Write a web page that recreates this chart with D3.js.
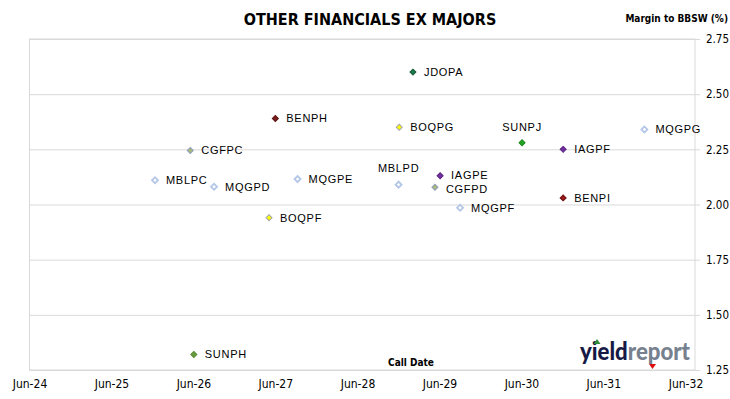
<!DOCTYPE html>
<html>
<head>
<meta charset="utf-8">
<script src="https://cdn.jsdelivr.net/npm/d3@7"></script>
<style>
  body { margin: 0; background: #fff; }
  svg { display: block; }
  .narrow { font-family: "Liberation Sans Narrow", "DejaVu Sans Condensed", "Arial Narrow", sans-serif; }
</style>
</head>
<body>
<svg id="chart" width="730" height="399"></svg>
<script>
// securities, call dates and margins
const names = ["JDOPA", "BENPH", "BOQPG", "MQGPG", "SUNPJ", "IAGPF", "CGFPC", "IAGPE",
  "MQGPE", "MBLPC", "MBLPD", "MQGPD", "CGFPD", "BENPI", "MQGPF", "BOQPF", "SUNPH"];
const callDates = ["2029-02-03", "2027-06-01", "2028-12-04", "2031-12-01", "2030-06-04", "2030-12-04",
  "2026-05-18", "2029-06-04", "2027-09-08", "2025-12-12", "2028-12-01", "2026-09-01",
  "2029-05-12", "2030-12-04", "2029-09-01", "2027-05-04", "2026-06-03"];
const margins = [2.60, 2.39, 2.35, 2.34, 2.28, 2.25, 2.245, 2.13,
  2.115, 2.11, 2.09, 2.08, 2.078, 2.03, 1.985, 1.94, 1.32];
const yTicks = [1.25, 1.50, 1.75, 2.00, 2.25, 2.50, 2.75];
const xTicks = ["2024-06-01", "2025-06-01", "2026-06-01", "2027-06-01", "2028-06-01",
  "2029-06-01", "2030-06-01", "2031-06-01", "2032-06-01"];

// marker look per issuer
const styles = {
  JDO: { fill: "#1d7a4c", stroke: "#145a38", sw: 1 },
  BEN: { fill: "#7a1e1e", stroke: "#5a1010", sw: 1 },
  BOQ: { fill: "#ffff00", stroke: "#a6a6a6", sw: 1 },
  SUN: { fill: "#22a622", stroke: "#1a8a1a", sw: 1 },
  IAG: { fill: "#7030a0", stroke: "#5a2080", sw: 1 },
  CGF: { fill: "#a9b97a", stroke: "#8e9fb8", sw: 1 },
  MQG: { fill: "#ffffff", stroke: "#b4c7e7", sw: 1.8 },
  MBL: { fill: "#ffffff", stroke: "#b4c7e7", sw: 1.8 }
};
const styleOverride = { BENPI: { fill: "#9a1a1a", stroke: "#6a0e0e", sw: 1 },
  SUNPH: { fill: "#6a9d3e", stroke: "#5a8a30", sw: 1 } };
const labelsAbove = ["SUNPJ", "MBLPD"];
const labelNudge = { IAGPE: -1, CGFPD: 1.5 };

const svg = d3.select("#chart");
const plotLeft = 29.5, plotRight = 695, plotTop = 39, plotBottom = 370;

const parse = d3.utcParse("%Y-%m-%d");
const x = d3.scaleUtc()
  .domain([parse("2024-06-01"), parse("2032-06-01")])
  .range([plotLeft, 685.5]);
const y = d3.scaleLinear().domain([1.25, 2.75]).range([plotBottom, plotTop]);

// frame
svg.append("rect")
  .attr("x", plotLeft).attr("y", plotTop)
  .attr("width", plotRight - plotLeft).attr("height", plotBottom - plotTop)
  .attr("fill", "none").attr("stroke", "#d9d9d9").attr("stroke-width", 1);

// y axis on the right with gridlines
const yAxis = svg.append("g")
  .attr("class", "narrow")
  .attr("transform", "translate(700,0)")
  .call(d3.axisRight(y).tickValues(yTicks).tickFormat(d3.format(".2f"))
    .tickSize(-(700 - plotLeft)).tickPadding(6));
yAxis.select(".domain").remove();
yAxis.selectAll(".tick line").attr("stroke", "#d9d9d9");
yAxis.selectAll(".tick text").attr("font-size", 11.5).attr("fill", "#000");

// x axis
const xAxis = svg.append("g")
  .attr("class", "narrow")
  .attr("transform", "translate(0," + plotBottom + ")")
  .call(d3.axisBottom(x).tickValues(xTicks.map(parse)).tickFormat(d3.utcFormat("%b-%y"))
    .tickSize(0).tickPadding(9));
xAxis.select(".domain").remove();
xAxis.selectAll(".tick text").attr("font-size", 12).attr("fill", "#000");

// title and axis titles
svg.append("text").attr("class", "narrow")
  .attr("x", 370).attr("y", 25).attr("text-anchor", "middle")
  .attr("font-size", 16).attr("font-weight", "bold")
  .text("OTHER FINANCIALS EX MAJORS");
svg.append("text").attr("class", "narrow")
  .attr("x", 728).attr("y", 22).attr("text-anchor", "end")
  .attr("font-size", 10).attr("font-weight", "bold")
  .text("Margin to BBSW (%)");
svg.append("text").attr("class", "narrow")
  .attr("x", 411).attr("y", 366).attr("text-anchor", "middle")
  .attr("font-size", 10).attr("font-weight", "bold")
  .text("Call Date");

// yieldreport logo
const logo = svg.append("g");
logo.append("text")
  .attr("x", 580).attr("y", 360)
  .attr("font-family", "Lato, 'Open Sans', sans-serif")
  .attr("font-size", 24).attr("font-weight", 900)
  .attr("textLength", 110).attr("lengthAdjust", "spacingAndGlyphs")
  .call(t => {
    t.append("tspan").attr("fill", "#161a45").text("yield");
    t.append("tspan").attr("fill", "#76808e").text("report");
  });
logo.append("path").attr("d", "M593.5,344 L597,339 L600.5,344 Z").attr("fill", "#2e8b3a");
logo.append("path").attr("d", "M649,364 L652.5,369 L656,364 Z").attr("fill", "#e01010");

// points
const points = names.map((n, i) => ({ name: n, date: parse(callDates[i]), margin: margins[i] }));
const styleOf = n => styleOverride[n] || styles[n.slice(0, 3)];

const pt = svg.append("g").selectAll("g")
  .data(points)
  .join("g")
  .attr("transform", d => "translate(" + x(d.date) + "," + y(d.margin) + ")");

pt.append("path")
  .attr("d", d3.symbol(d3.symbolSquare, 18))
  .attr("transform", "rotate(45)")
  .attr("fill", d => styleOf(d.name).fill)
  .attr("stroke", d => styleOf(d.name).stroke)
  .attr("stroke-width", d => styleOf(d.name).sw);

pt.append("text")
  .attr("font-family", "Liberation Sans, Arial, sans-serif")
  .attr("font-size", 11)
  .attr("letter-spacing", 0.7)
  .attr("fill", "#000")
  .attr("x", d => labelsAbove.includes(d.name) ? 0 : 11)
  .attr("y", d => labelsAbove.includes(d.name) ? -16 : (labelNudge[d.name] || 0))
  .attr("dy", "0.35em")
  .attr("text-anchor", d => labelsAbove.includes(d.name) ? "middle" : "start")
  .text(d => d.name);
</script>
</body>
</html>
